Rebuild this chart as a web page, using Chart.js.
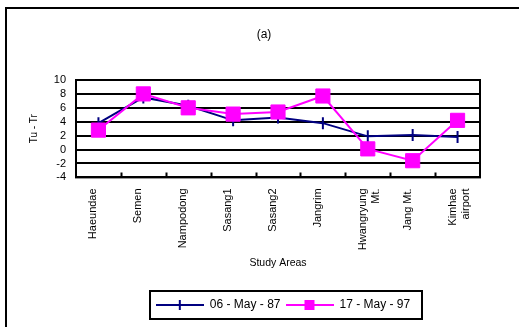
<!DOCTYPE html>
<html lang="en">
<head>
<meta charset="UTF-8">
<title>Tu - Tr</title>
<script src="https://cdn.jsdelivr.net/npm/chart.js"></script>
<style>
  html, body { margin: 0; padding: 0; background: #fff; }
</style>
</head>
<body>
<canvas id="grafico" width="519" height="327"></canvas>
<script>
// dados (a)
const areas = ['Haeundae', 'Semen', 'Nampodong', 'Sasang1', 'Sasang2', 'Jangrim', ['Hwangryung', 'Mt.'], 'Jang Mt.', ['Kimhae', 'airport']];
const may87 = [3.8, 7.5, 6.3, 4.2, 4.6, 3.8, 1.9, 2.1, 1.8];
const may97 = [2.8, 8.0, 6.0, 5.1, 5.4, 7.7, 0.1, -1.6, 4.2];
const yTicks = [-4, -2, 0, 2, 4, 6, 8, 10];
const nomes = ['06 - May - 87', '17 - May - 97'];

const AZUL = '#000080';
const ROSA = '#FF00FF';
const fonte = 'Liberation Sans, Arial, sans-serif';

// amostra da legenda: linha com o marcador no meio
function amostra(cor, tipo) {
    const c = document.createElement('canvas');
    c.width = 48; c.height = 14;
    const g = c.getContext('2d');
    g.strokeStyle = cor;
    g.lineWidth = 2;
    g.beginPath(); g.moveTo(0, 7); g.lineTo(48, 7); g.stroke();
    if (tipo === 'traco') {
        g.beginPath(); g.moveTo(24, 2); g.lineTo(24, 12); g.stroke();
    } else {
        g.fillStyle = cor;
        g.fillRect(19, 2, 10, 10);
    }
    return c;
}
const amostras = [amostra(AZUL, 'traco'), amostra(ROSA, 'quadrado')];

// moldura, borda da area do grafico, marcas internas e caixa da legenda
const desenhos = {
    id: 'desenhos',
    afterLayout(chart) {
        // legenda e titulo ficam um pouco a direita no original
        const lg = chart.legend;
        lg.left += 34; lg.right += 34;
        const tb = chart.titleBlock;
        tb.left += 15; tb.right += 15;
    },
    beforeDatasetsDraw(chart) {
        const ctx = chart.ctx;
        const a = chart.chartArea;
        const x = chart.scales.x;
        ctx.save();
        ctx.strokeStyle = '#000';
        ctx.lineWidth = 2;
        ctx.strokeRect(a.left, a.top, a.right - a.left, a.bottom - a.top);
        ctx.beginPath();
        for (let i = 0; i < areas.length - 1; i++) {
            const px = Math.round((x.getPixelForValue(i) + x.getPixelForValue(i + 1)) / 2) + 0.5;
            ctx.moveTo(px, a.bottom);
            ctx.lineTo(px, a.bottom - 5);
        }
        ctx.stroke();
        ctx.restore();
    },
    afterDraw(chart) {
        const ctx = chart.ctx;
        ctx.save();
        ctx.strokeStyle = '#000';
        ctx.lineWidth = 2;
        ctx.beginPath();
        ctx.moveTo(6, 327); ctx.lineTo(6, 8); ctx.lineTo(519, 8);
        ctx.stroke();
        const caixas = chart.legend.legendHitBoxes;
        if (caixas && caixas.length) {
            let l = Infinity, r = -Infinity, t = Infinity, b = -Infinity;
            caixas.forEach(h => {
                l = Math.min(l, h.left); r = Math.max(r, h.left + h.width);
                t = Math.min(t, h.top); b = Math.max(b, h.top + h.height);
            });
            ctx.strokeRect(Math.round(l) - 6, Math.round(t) - 8, Math.round(r - l) + 18, Math.round(b - t) + 16);
        }
        ctx.restore();
    }
};

new Chart(document.getElementById('grafico'), {
    type: 'line',
    data: {
        labels: areas,
        datasets: [{
            label: nomes[0],
            data: may87,
            borderColor: AZUL,
            borderWidth: 2,
            pointStyle: 'line',
            pointRotation: 90,
            pointRadius: 6,
            pointBorderWidth: 2,
            pointBorderColor: AZUL,
            tension: 0,
            order: 2
        }, {
            label: nomes[1],
            data: may97,
            borderColor: ROSA,
            borderWidth: 2,
            pointStyle: 'rect',
            pointRadius: 10,
            pointBorderWidth: 1,
            pointBackgroundColor: ROSA,
            pointBorderColor: ROSA,
            tension: 0,
            order: 1
        }]
    },
    options: {
        responsive: false,
        animation: false,
        layout: { padding: { top: 27, left: 18, right: 39, bottom: 6 } },
        plugins: {
            tooltip: { enabled: false },
            title: {
                display: true,
                text: '(a)',
                color: '#000',
                font: { family: fonte, size: 12, weight: 'normal' },
                padding: { top: 0, bottom: 38.6 }
            },
            legend: {
                position: 'bottom',
                labels: {
                    color: '#000',
                    font: { family: fonte, size: 12 },
                    usePointStyle: true,
                    pointStyleWidth: 48,
                    padding: 5,
                    generateLabels: () => nomes.map((n, i) => ({
                        text: n,
                        pointStyle: amostras[i],
                        fillStyle: 'transparent',
                        strokeStyle: 'transparent',
                        lineWidth: 0,
                        datasetIndex: i,
                        fontColor: '#000'
                    }))
                }
            }
        },
        scales: {
            x: {
                offset: true,
                grid: { display: false },
                border: { display: false },
                ticks: {
                    color: '#000',
                    font: { family: fonte, size: 11 },
                    maxRotation: 90,
                    minRotation: 90,
                    autoSkip: false,
                    padding: 3,
                    labelOffset: -5
                },
                title: {
                    display: true,
                    text: 'Study Areas',
                    color: '#000',
                    font: { family: fonte, size: 10.5 },
                    padding: { top: 0, bottom: 24.6 }
                },
                afterFit: s => { s.height = 116.6; }
            },
            y: {
                min: -4,
                max: 10,
                afterBuildTicks: s => { s.ticks = yTicks.map(v => ({ value: v })); },
                grid: { color: '#000', lineWidth: 2, drawTicks: false },
                border: { display: false },
                ticks: {
                    color: '#000',
                    font: { family: fonte, size: 11 },
                    padding: 10,
                    autoSkip: false
                },
                title: {
                    display: true,
                    text: 'Tu - Tr',
                    color: '#000',
                    font: { family: fonte, size: 10 },
                    padding: { top: 10, bottom: 0 }
                },
                afterFit: s => { s.width = 58; }
            }
        }
    },
    plugins: [desenhos]
});
</script>
</body>
</html>
